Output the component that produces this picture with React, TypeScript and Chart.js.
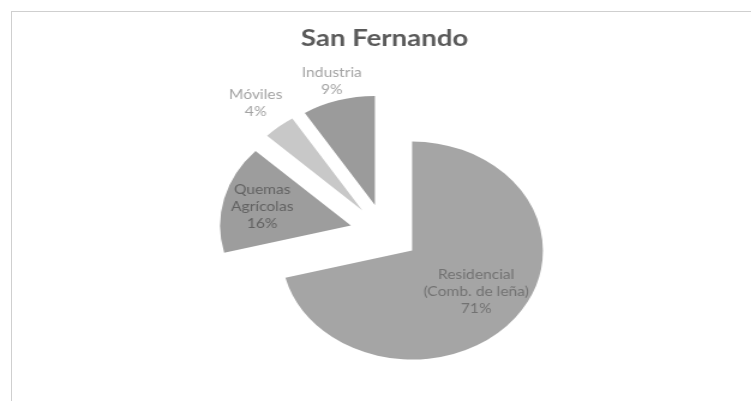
import React, { useEffect, useRef } from "react";
import { Chart, registerables } from "chart.js";

Chart.register(...registerables);

const title = "San Fernando";
const categories = ["Residencial (Comb. de leña)", "Quemas Agrícolas", "Móviles", "Industria"];
const labelLines = [["Residencial", "(Comb. de leña)"], ["Quemas", "Agrícolas"], ["Móviles"], ["Industria"]];
const values = [71, 16, 4, 9];
const sliceColors = ["#a5a5a5", "#9d9d9d", "#c8c8c8", "#9b9b9b"];
const labelColors = ["#727272", "#626262", "#a3a3a3", "#a3a3a3"];
const labelRadial = [0.62, 0.7, 1.28, 1.18];

const STRETCH = 1.2;
const W = 641;
const H = 401;
const EXPLODE = 29;

// Draw every arc element of the library moved outward by the same distance (exploded pie).
const explodePlugin = {
  id: "explode",
  beforeDatasetDraw(chart: any, args: any) {
    const ctx = chart.ctx;
    args.meta.data.forEach((el: any) => {
      const mid = (el.startAngle + el.endAngle) / 2;
      ctx.save();
      ctx.translate(Math.cos(mid) * EXPLODE, Math.sin(mid) * EXPLODE);
      el.draw(ctx, chart.chartArea);
      ctx.restore();
    });
    return false;
  },
};

const labelPlugin = {
  id: "sliceLabels",
  afterDatasetsDraw(chart: any) {
    const meta = chart.getDatasetMeta(0);
    const ds = chart.data.datasets[0];
    const total = (ds.data as number[]).reduce((a, b) => a + b, 0);
    const ctx = chart.ctx;
    ctx.save();
    ctx.font = "13px Lato";
    ctx.textAlign = "center";
    ctx.textBaseline = "middle";
    meta.data.forEach((el: any, i: number) => {
      const p = el.getProps(["x", "y", "startAngle", "endAngle", "outerRadius"], true);
      const mid = (p.startAngle + p.endAngle) / 2;
      const vx = p.x + Math.cos(mid) * EXPLODE;
      const vy = p.y + Math.sin(mid) * EXPLODE;
      const r = p.outerRadius * labelRadial[i];
      const cx = vx + Math.cos(mid) * r;
      const cy = vy + Math.sin(mid) * r;
      const pct = Math.round((ds.data[i] / total) * 100) + "%";
      const lines = [...labelLines[i], pct];
      const lh = 17;
      const top = cy - ((lines.length - 1) * lh) / 2;
      ctx.fillStyle = labelColors[i];
      lines.forEach((t, j) => ctx.fillText(t, cx, top + j * lh));
    });
    ctx.restore();
  },
};

export default function App() {
  const ref = useRef<HTMLCanvasElement | null>(null);
  useEffect(() => {
    if (!ref.current) return;
    const chart = new Chart(ref.current, {
      type: "pie",
      data: {
        labels: categories,
        datasets: [
          {
            data: values,
            backgroundColor: sliceColors,
            borderWidth: 0,
            offset: 0,
            radius: 109,
          } as any,
        ],
      },
      options: {
        animation: false,
        responsive: false,
        devicePixelRatio: 1,
        layout: { padding: { bottom: 27 } },
        plugins: {
          legend: { display: false },
          tooltip: { enabled: false },
          title: {
            display: true,
            text: title,
            color: "#5a5a5a",
            font: { family: "Lato", size: 23, weight: "bold" },
            padding: { top: 25, bottom: 39 },
          },
        },
      },
      plugins: [explodePlugin, labelPlugin],
    });
    return () => chart.destroy();
  }, []);

  return (
    <div style={{ position: "absolute", left: 0, top: 0, width: 751, height: 401, overflow: "hidden", background: "#fff" }}>
      <div style={{ position: "absolute", left: 11, top: 11, width: 800, height: 500, borderLeft: "1px solid #cfcfcf", borderTop: "1px solid #cfcfcf" }} />
      <div style={{ position: "absolute", left: 0, top: 0, width: W, height: H, transform: `scaleX(${STRETCH})`, transformOrigin: "0 0" }}>
        <canvas ref={ref} width={W} height={H} style={{ width: W, height: H, display: "block" }} />
      </div>
    </div>
  );
}
